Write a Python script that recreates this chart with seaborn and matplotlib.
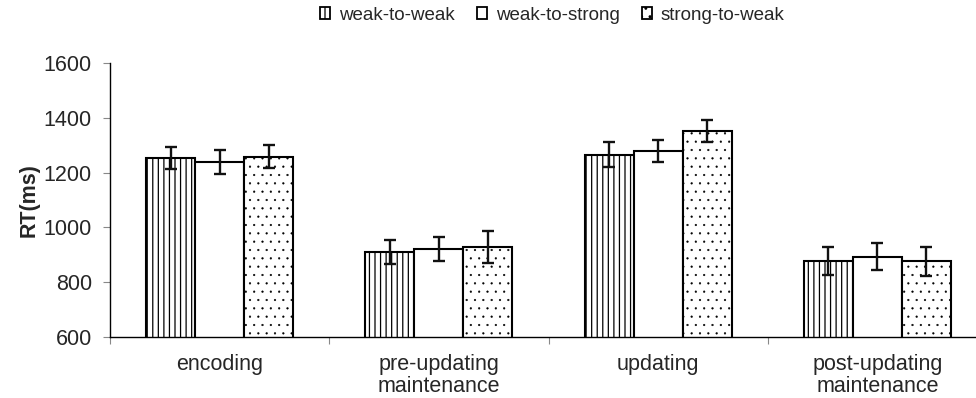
import matplotlib
matplotlib.use("Agg")
import matplotlib.pyplot as plt
from matplotlib.patches import Patch
from matplotlib.ticker import FixedLocator
import numpy as np
import pandas as pd
import seaborn as sns

# Mean reaction times (ms) and error-bar half-widths per phase and condition
phases = ["encoding", "pre-updating\nmaintenance", "updating", "post-updating\nmaintenance"]
conditions = ["weak-to-weak", "weak-to-strong", "strong-to-weak"]
rt_weak_weak = [1253, 910, 1265, 878]
rt_weak_strong = [1239, 920, 1279, 893]
rt_strong_weak = [1257, 928, 1352, 877]
err_weak_weak = [40, 43, 45, 51]
err_weak_strong = [45, 44, 41, 50]
err_strong_weak = [42, 58, 41, 53]
y_ticks = [600, 800, 1000, 1200, 1400, 1600]

means = [rt_weak_weak, rt_weak_strong, rt_strong_weak]
errors = [err_weak_weak, err_weak_strong, err_strong_weak]
hatches = ["|||", "", ".."]
hatch_widths = [0.9, 0.9, 0.35]

df = pd.DataFrame({
    "phase": np.repeat([phases], 3, axis=0).ravel(),
    "condition": np.repeat(conditions, len(phases)),
    "rt": np.ravel(means),
    "err": np.ravel(errors),
})

sns.set_style("white")
plt.rcParams["font.family"] = ["Liberation Sans", "DejaVu Sans"]
plt.rcParams["hatch.linewidth"] = 0.9
plt.rcParams["hatch.color"] = "black"

fig = plt.figure(figsize=(9.76, 3.98), dpi=100)
ax = fig.add_axes([110 / 976, 61 / 398, 877 / 976, 274 / 398])

sns.barplot(data=df, x="phase", y="rt", hue="condition", order=phases,
            hue_order=conditions, width=0.67, errorbar=None,
            color="white", edgecolor="black", linewidth=1.5,
            legend=False, ax=ax)


def style_hatch(patch, hatch, hw):
    patch.set_hatch(hatch)
    if hasattr(patch, "set_hatch_linewidth"):
        patch.set_hatch_linewidth(hw)


for container, hatch, hw, errs, vals in zip(ax.containers, hatches, hatch_widths,
                                            errors, means):
    centers = []
    for bar in container:
        bar.set_facecolor("white")
        bar.set_edgecolor("black")
        style_hatch(bar, hatch, hw)
        centers.append(bar.get_x() + bar.get_width() / 2)
    ax.errorbar(centers, vals, yerr=errs, fmt="none", ecolor="#111111",
                elinewidth=1.7, capsize=4.5, capthick=1.7, zorder=5)

ax.set_xlim(-0.5, len(phases) - 0.5)
ax.set_ylim(600, 1600)
ax.set_yticks(y_ticks)
ax.set_xlabel("")
ax.set_ylabel("RT(ms)", fontsize=15.5, fontweight="bold")
ax.yaxis.set_label_coords(-0.08, 0.5)

ax.xaxis.set_minor_locator(FixedLocator(np.arange(-0.5, len(phases), 1.0)))
ax.tick_params(axis="x", which="major", length=0, pad=12, labelsize=15.5)
ax.tick_params(axis="x", which="minor", length=5, width=0.8, color="#888888",
               direction="out", bottom=True)
ax.tick_params(axis="y", which="major", length=5, width=0.8, color="#888888",
               direction="out", left=True, pad=8, labelsize=15.5)
for lab in ax.get_xticklabels():
    lab.set_linespacing(1.1)

for side in ("top", "right"):
    ax.spines[side].set_visible(False)
for side in ("left", "bottom"):
    ax.spines[side].set_color("black")
    ax.spines[side].set_linewidth(1.0)

handles = []
for h, hw in zip(hatches, hatch_widths):
    p = Patch(facecolor="white", edgecolor="black", linewidth=1.3)
    style_hatch(p, h, hw)
    handles.append(p)
fig.legend(handles, conditions, loc="center", bbox_to_anchor=(0.566, 0.962),
           ncol=3, frameon=False, fontsize=13.5, handlelength=0.55,
           handleheight=0.55, handletextpad=0.45, columnspacing=1.2)

fig.savefig("out.png", dpi=100)
